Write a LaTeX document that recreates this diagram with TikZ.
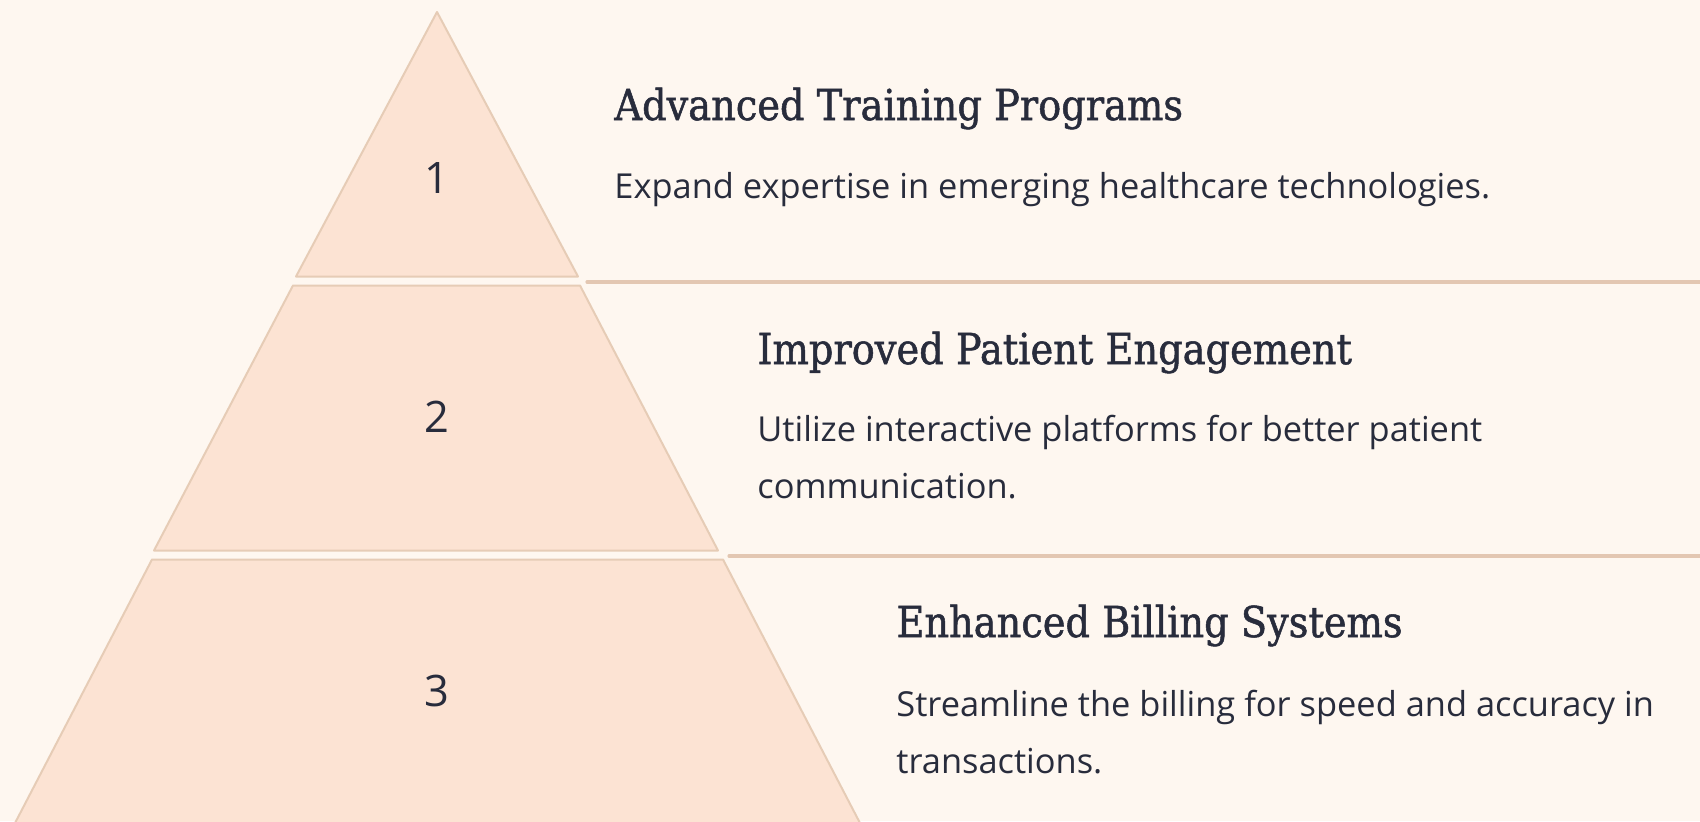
\documentclass[tikz,border=0pt]{standalone}
\usepackage{fontspec}
\setmainfont{Open Sans}
\newfontfamily\headfont[FakeStretch=0.9,FakeBold=1.2]{DejaVu Serif}

\definecolor{bgcream}{HTML}{FEF7F0}
\definecolor{tierfill}{HTML}{FCE3D3}
\definecolor{tierline}{HTML}{E6CCB6}
\definecolor{ruleline}{HTML}{E3C7B2}
\definecolor{inkblue}{HTML}{282C3C}

\tikzset{
  tier/.style={fill=tierfill, draw=tierline, line width=1pt, line join=round},
  rule/.style={draw=ruleline, line width=1.6pt, line cap=round},
  num/.style={font=\fontsize{21.7}{26}\selectfont, text=inkblue, inner sep=0pt},
  head/.style={font=\headfont\fontsize{21.3}{26}\selectfont, text=inkblue, anchor=base west, inner sep=0pt},
  desc/.style={font=\fontsize{17.2}{28.3}\selectfont, text=inkblue, anchor=base west, inner sep=0pt, align=left}
}

\begin{document}
\begin{tikzpicture}[x=0.5pt,y=-0.5pt]

  \fill[bgcream] (0,0) rectangle (1700,821);
  \useasboundingbox (0,0) rectangle (1700,821);

  % pyramid tiers
  \begin{scope}
    \clip (0,0) rectangle (1700,821);
    \draw[tier] (437,12) -- (578,276.5) -- (296,276.5) -- cycle;
    \draw[tier] (293,285.5) -- (580,285.5) -- (718,550.5) -- (154,550.5) -- cycle;
    \draw[tier] (152,559.5) -- (723,559.5) -- (861,825) -- (14,825) -- cycle;
  \end{scope}

  \node (num1) [num] at (437,178) {1};
  \node (num2) [num] at (437,417) {2};
  \node (num3) [num] at (437,691) {3};

  % separators
  \draw[rule] (587,282) -- (1700,282);
  \draw[rule] (729,556) -- (1700,556);

  % texts (multi-line: base is the last line)
  \node (head1) [head] at (614,120) {Advanced Training Programs};
  \node (desc1) [desc] at (614,198) {Expand expertise in emerging healthcare technologies.};

  \node (head2) [head] at (757,364) {Improved Patient Engagement};
  \node (desc2) [desc] at (757,498.5) {Utilize interactive platforms for better patient\\communication.};

  \node (head3) [head] at (896,637) {Enhanced Billing Systems};
  \node (desc3) [desc] at (896,773) {Streamline the billing for speed and accuracy in\\transactions.};

\end{tikzpicture}
\end{document}
